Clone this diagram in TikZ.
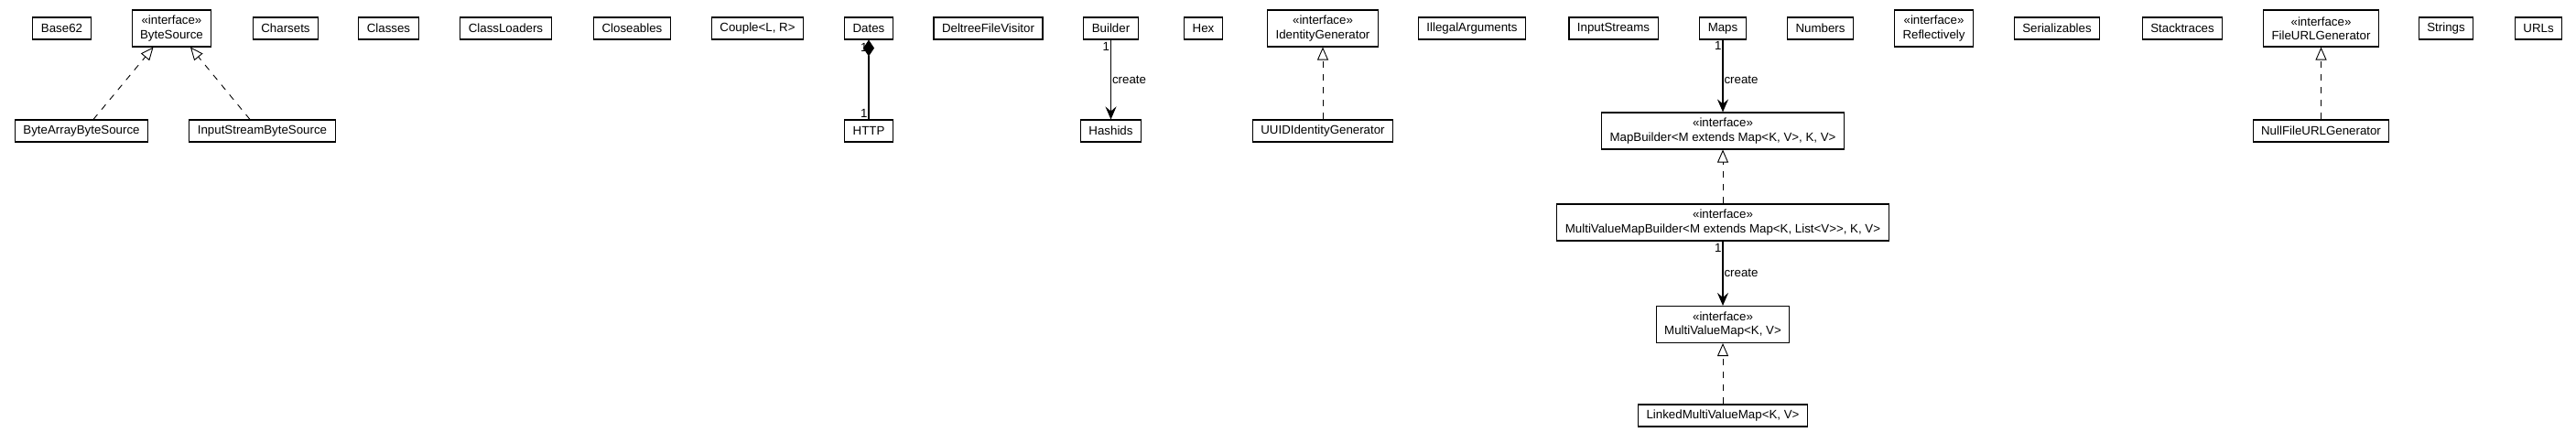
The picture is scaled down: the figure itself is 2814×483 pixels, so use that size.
\documentclass[tikz,border=0pt]{standalone}
\usepackage{fontspec}
\setmainfont{Liberation Sans}
\usetikzlibrary{arrows.meta}

\begin{document}
\begin{tikzpicture}[x=1pt, y=-1pt, font=\fontsize{13.3}{15.5}\selectfont]
\tikzset{cls/.style={draw, line width=1.1pt, minimum height=24pt, inner xsep=9pt, inner ysep=2pt}}
\tikzset{iface/.style={cls, minimum height=40pt, align=center}}
\tikzstyle{realize} = [line width=0.9pt, dash pattern=on 7pt off 7pt, -{Triangle[open, length=14pt, width=12pt]}]
\tikzstyle{create} = [line width=1.1pt, -{Stealth[length=14pt, width=12pt, inset=5pt]}]
\tikzstyle{owns} = [line width=1.1pt, {Diamond[length=18pt, width=12pt]}-]
\tikzstyle{mult} = [inner sep=1pt, left]
\useasboundingbox (0,0) rectangle (2814,483);

% top row
\node[cls] (v1) at (67.5,31) {Base62};
\node[iface] (v2) at (187.5,31) {«interface»\\ByteSource};
\node[cls] (v3) at (312,31) {Charsets};
\node[cls] (v4) at (424.5,31) {Classes};
\node[cls] (v5) at (552.5,31) {ClassLoaders};
\node[cls] (v6) at (690.5,31) {Closeables};
\node[cls] (v7) at (827.5,31) {Couple<L, R>};
\node[cls] (v8) at (949,31) {Dates};
\node[cls] (v9) at (1079.5,31) {DeltreeFileVisitor};
\node[cls] (v10) at (1213.5,31) {Builder};
\node[cls] (v11) at (1314.5,31) {Hex};
\node[iface] (v12) at (1445,31) {«interface»\\IdentityGenerator};
\node[cls] (v13) at (1608,31) {IllegalArguments};
\node[cls] (v14) at (1762.5,31) {InputStreams};
\node[cls] (v15) at (1882,31) {Maps};
\node[cls] (v16) at (1988.5,31) {Numbers};
\node[iface] (v17) at (2112.5,31) {«interface»\\Reflectively};
\node[cls] (v18) at (2247,31) {Serializables};
\node[cls] (v19) at (2384,31) {Stacktraces};
\node[iface] (v20) at (2535.5,31) {«interface»\\FileURLGenerator};
\node[cls] (v21) at (2672,31) {Strings};
\node[cls] (v22) at (2773,31) {URLs};

% second row
\node[cls] (v23) at (89,143) {ByteArrayByteSource};
\node[cls] (v24) at (286.5,143) {InputStreamByteSource};
\node[cls] (v25) at (949,143) {HTTP};
\node[cls] (v26) at (1213.5,143) {Hashids};
\node[cls] (v27) at (1445,143) {UUIDIdentityGenerator};
\node[iface] (v28) at (1882,143) {«interface»\\MapBuilder<M extends Map<K, V>, K, V>};
\node[cls] (v29) at (2535.5,143) {NullFileURLGenerator};

% map column
\node[iface] (v30) at (1882,243) {«interface»\\MultiValueMapBuilder<M extends Map<K, List<V>{}>, K, V>};
\node[iface] (v31) at (1882,354.5) {«interface»\\MultiValueMap<K, V>};
\node[cls] (v32) at (1882,454) {LinkedMultiValueMap<K, V>};

\draw [realize] ([xshift=13pt]v23.north) -- ([xshift=-20pt]v2.south);
\draw [realize] ([xshift=-13.5pt]v24.north) -- ([xshift=20.5pt]v2.south);
\draw [owns] (v8) edge node[mult, pos=0.1] {1} node[mult, pos=0.92] {1} (v25);
\draw [create] (v10) edge node[mult, pos=0.08] {1} node[right, inner sep=1pt] {create} (v26);
\draw [realize] (v27) edge (v12);
\draw [create] (v15) edge node[mult, pos=0.08] {1} node[right, inner sep=1pt, pos=0.55] {create} (v28);
\draw [realize] (v30) edge (v28);
\draw [create] (v30) edge node[mult, pos=0.1] {1} node[right, inner sep=1pt] {create} (v31);
\draw [realize] (v32) edge (v31);
\draw [realize] (v29) edge (v20);
\end{tikzpicture}
\end{document}
